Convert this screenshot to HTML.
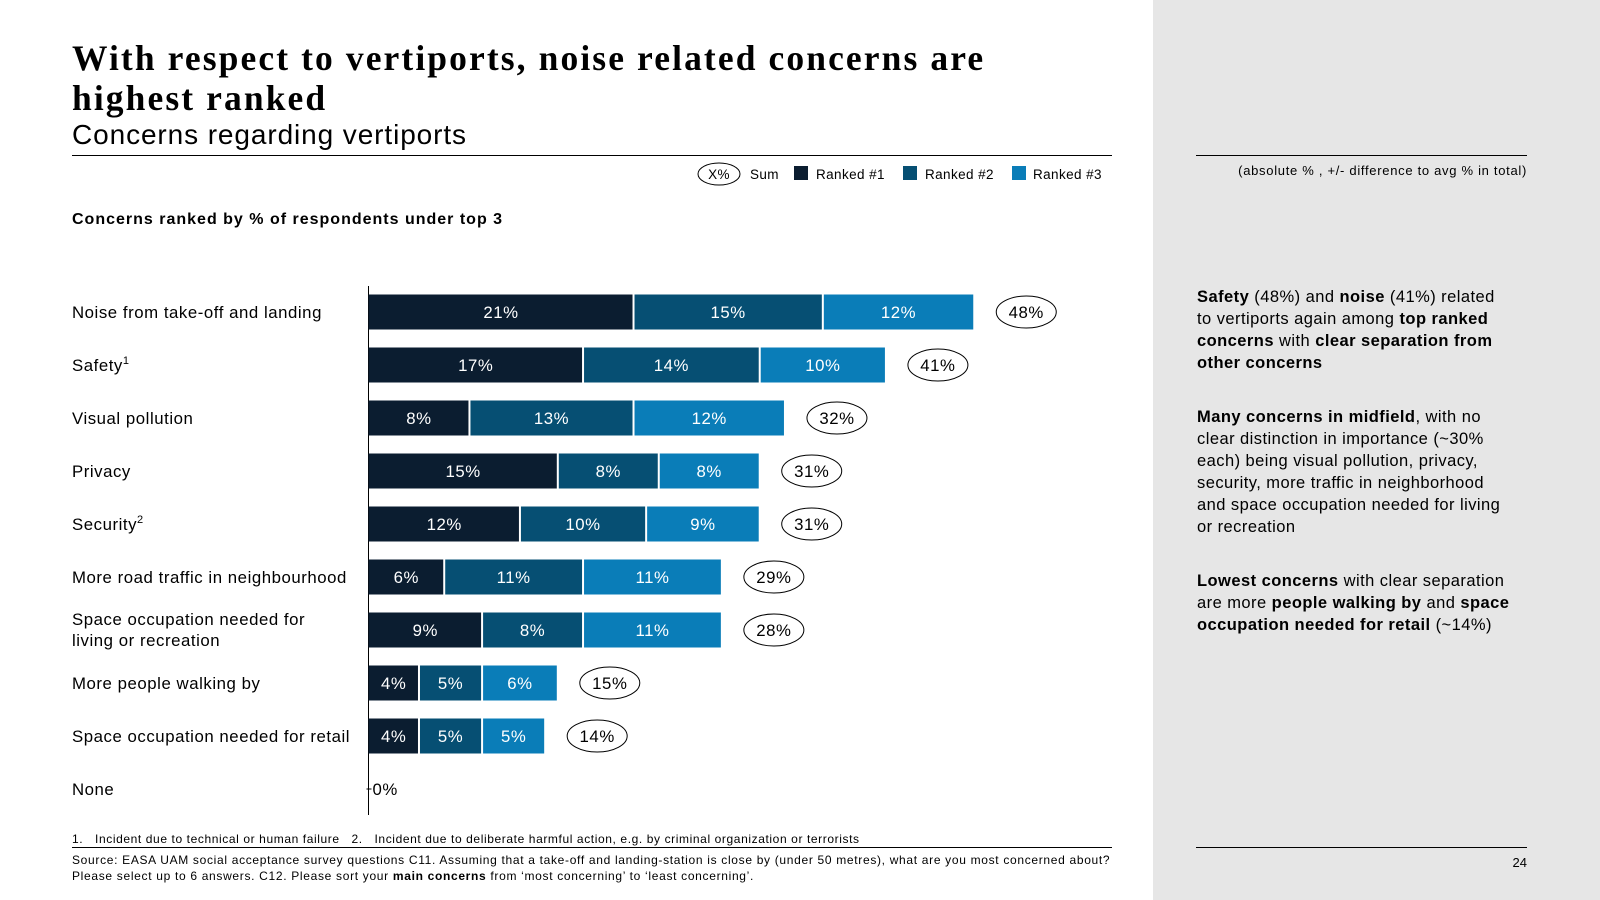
<!DOCTYPE html>
<html><head><meta charset="utf-8">
<style>
*{margin:0;padding:0;box-sizing:border-box}
body{width:1600px;height:900px;position:relative;background:#fff;font-family:"Liberation Sans",Arial,sans-serif;color:#000;overflow:hidden}
.a{position:absolute;white-space:nowrap}
#panel{position:absolute;left:1153px;top:0;width:447px;height:900px;background:#e6e6e6}
.rp{position:absolute;left:1197px;width:340px;font-size:16.5px;line-height:22px;white-space:normal;letter-spacing:0.45px}
b{font-weight:bold}
</style></head><body>
<div id="panel"></div>
<div class="a" style="left:72px;top:38px;font-family:'Liberation Serif',serif;font-weight:bold;font-size:35.5px;line-height:40px;letter-spacing:2.1px">With respect to vertiports, noise related concerns are<br>highest ranked</div>
<div class="a" style="left:72px;top:118px;font-size:28px;line-height:34px;letter-spacing:0.9px">Concerns regarding vertiports</div>
<div class="a" style="left:72px;top:155px;width:1040px;height:1px;background:#000"></div>
<div class="a" style="left:72px;top:211px;font-size:16px;font-weight:bold;letter-spacing:1.0px">Concerns ranked by % of respondents under top 3</div>

<svg class="a" style="left:0;top:0" width="1153" height="900" id="chart">
 <g font-size="13.5" font-family="Liberation Sans, Arial, sans-serif" letter-spacing="0.4">
  <ellipse cx="719" cy="174" rx="21" ry="11" fill="#fff" stroke="#000"/>
  <text x="719" y="179" text-anchor="middle">X%</text>
  <text x="750" y="179">Sum</text>
  <rect x="794" y="166" width="14" height="14" fill="#0b1d30"/>
  <text x="816" y="179">Ranked #1</text>
  <rect x="903" y="166" width="14" height="14" fill="#064f73"/>
  <text x="925" y="179">Ranked #2</text>
  <rect x="1012" y="166" width="14" height="14" fill="#0a7db8"/>
  <text x="1033" y="179">Ranked #3</text>
 </g>
 <line x1="368.5" y1="286" x2="368.5" y2="815" stroke="#000"/>
 <g id="rows" letter-spacing="0.55"></g>
</svg>

<div class="a" style="left:72px;top:832px;font-size:12px;letter-spacing:0.6px">1.&nbsp;&nbsp;&nbsp;Incident due to technical or human failure&nbsp;&nbsp;&nbsp;2.&nbsp;&nbsp;&nbsp;Incident due to deliberate harmful action, e.g. by criminal organization or terrorists</div>
<div class="a" style="left:72px;top:847px;width:1040px;height:1px;background:#000"></div>
<div class="a" style="left:72px;top:852px;font-size:12px;line-height:16px;letter-spacing:0.68px">Source: EASA UAM social acceptance survey questions C11. Assuming that a take-off and landing-station is close by (under 50 metres), what are you most concerned about?<br>Please select up to 6 answers. C12. Please sort your <b>main concerns</b> from ‘most concerning’ to ‘least concerning’.</div>

<div class="a" style="left:1196px;top:155px;width:331px;height:1px;background:#000"></div>
<div class="a" style="right:73px;top:163px;font-size:13px;letter-spacing:0.7px">(absolute % , +/- difference to avg % in total)</div>
<div class="rp" style="top:286px"><b>Safety</b> (48%) and <b>noise</b> (41%) related<br>to vertiports again among <b>top ranked<br>concerns</b> with <b>clear separation from<br>other concerns</b></div>
<div class="rp" style="top:406px"><b>Many concerns in midfield</b>, with no<br>clear distinction in importance (~30%<br>each) being visual pollution, privacy,<br>security, more traffic in neighborhood<br>and space occupation needed for living<br>or recreation</div>
<div class="rp" style="top:570px"><b>Lowest concerns</b> with clear separation<br>are more <b>people walking by</b> and <b>space<br>occupation needed for retail</b> (~14%)</div>
<div class="a" style="left:1196px;top:847px;width:331px;height:1px;background:#000"></div>
<div class="a" style="right:73px;top:855px;font-size:13px">24</div>

<script>
const categories=["Noise from take-off and landing","Safety|1","Visual pollution","Privacy","Security|2","More road traffic in neighbourhood","Space occupation needed for|living or recreation","More people walking by","Space occupation needed for retail","None"];
const ranked1=[21,17,8,15,12,6,9,4,4,0];
const ranked2=[15,14,13,8,10,11,8,5,5,0];
const ranked3=[12,10,12,8,9,11,11,6,5,0];
const sums=[48,41,32,31,31,29,28,15,14,0];
const colors=["#0b1d30","#064f73","#0a7db8"];
const NS="http://www.w3.org/2000/svg";
const x0=368.5,pxPer=12.62,y0=312,step=53,bh=35;
const xs=v=>x0+v*pxPer;
const ys=i=>y0+i*step;
const g=document.getElementById('rows');
function mk(t,a){const e=document.createElementNS(NS,t);for(const k in a)e.setAttribute(k,a[k]);return e;}
categories.forEach((c,i)=>{
  const cy=ys(i);
  const lab=mk('text',{x:72,y:cy+6,'font-size':16.8});
  
  
  const parts=c.split('|');
  if(parts.length===2 && parts[1].length===1){
    lab.textContent=parts[0];
    const sp=mk('tspan',{'font-size':11,dy:-7});sp.textContent=parts[1];lab.appendChild(sp);
  } else if(parts.length===2){
    lab.setAttribute('y',cy-5);
    lab.textContent=parts[0];
    const sp=mk('tspan',{x:72,dy:21});sp.textContent=parts[1];lab.appendChild(sp);
  } else lab.textContent=c;
  g.appendChild(lab);
  const vals=[ranked1[i],ranked2[i],ranked3[i]];
  let acc=0;
  vals.forEach((v,k)=>{
    if(v<=0)return;
    const xa=xs(acc),xb=xs(acc+v);
    const r=mk('rect',{x:xa+(k?1:0),y:cy-bh/2,width:xb-xa-(k?1:0)-1,height:bh,fill:colors[k]});
    
    
    g.appendChild(r);
    const t=mk('text',{x:(xa+xb)/2,y:cy+6,'text-anchor':'middle',fill:'#fff','font-size':16.8});
    t.textContent=v+'%';
    
    
    g.appendChild(t);
    acc+=v;
  });
  if(sums[i]>0){
    const cx=xs(acc)+52;
    const e=mk('ellipse',{cx:cx,cy:cy,rx:30,ry:16,fill:'#fff',stroke:'#000'});
    
    
    g.appendChild(e);
    const t=mk('text',{x:cx,y:cy+6,'text-anchor':'middle','font-size':16.8});
    t.textContent=sums[i]+'%';
    
    
    g.appendChild(t);
  } else {
    g.appendChild(mk('line',{x1:x0-2,x2:x0+3,y1:cy,y2:cy,stroke:'#000'}));
    const t=mk('text',{x:x0+4,y:cy+6,'font-size':16.8});
    t.textContent=sums[i]+'%';
    
    
    g.appendChild(t);
  }
});
</script>
</body></html>
